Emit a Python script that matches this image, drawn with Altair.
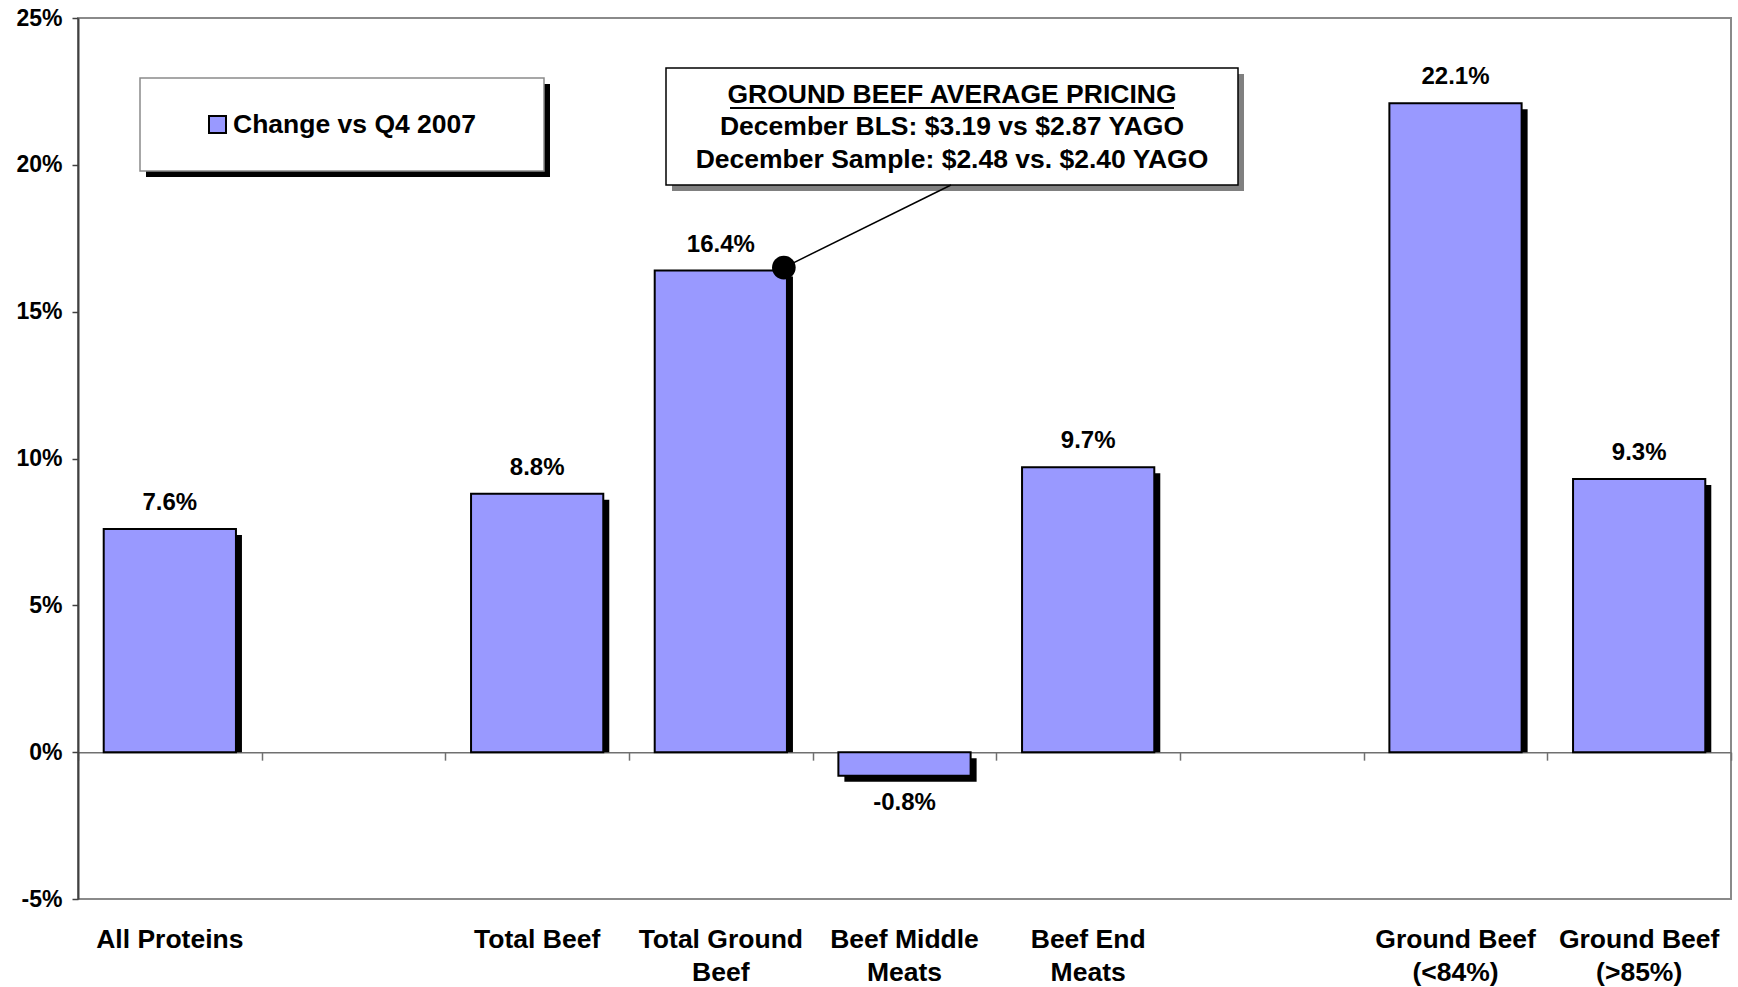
import altair as alt
import pandas as pd

# Category slots along the x axis (blank slots leave gaps between groups)
categories = ["All Proteins", " ", "Total Beef", "Total Ground\nBeef", "Beef Middle\nMeats",
              "Beef End\nMeats", "  ", "Ground Beef\n(<84%)", "Ground Beef\n(>85%)"]
bar_categories = ["All Proteins", "Total Beef", "Total Ground\nBeef", "Beef Middle\nMeats",
                  "Beef End\nMeats", "Ground Beef\n(<84%)", "Ground Beef\n(>85%)"]
change_pct = [7.6, 8.8, 16.4, -0.8, 9.7, 22.1, 9.3]
y_ticks = [-5, 0, 5, 10, 15, 20, 25]
series_name = "Change vs Q4 2007"
callout_category = "Total Ground\nBeef"
callout_lines = ["GROUND BEEF AVERAGE PRICING",
                 "December BLS: $3.19 vs $2.87 YAGO",
                 "December Sample: $2.48 vs. $2.40 YAGO"]

FONT = "Liberation Sans"
BAR_FILL = "#9999FF"
W, H = 1653, 881
SHADOW = 6

df = pd.DataFrame({"category": bar_categories, "value": change_pct})
df["label"] = [f"{v:.1f}%" for v in change_pct]
slots = pd.DataFrame({"category": categories, "value": [0] * len(categories)})
one = pd.DataFrame({"k": [0]})

x_scale = alt.Scale(domain=categories, paddingInner=0.28, paddingOuter=0.14)
y_scale = alt.Scale(domain=[-5, 25], nice=False, zero=False)

x_axis = alt.Axis(orient="bottom", labelExpr="split(datum.label, '\\n')", labelAngle=0,
                  labelFont=FONT, labelFontSize=26.5, labelFontWeight="bold",
                  labelColor="black", labelPadding=27, labelLineHeight=33,
                  labelBaseline="top", labelLimit=400, labelOverlap=False,
                  ticks=False, domain=False, grid=False)
x_main = alt.X("category:N", scale=x_scale, title=None, axis=x_axis)

y_axis = alt.Axis(values=y_ticks, labelExpr="datum.value + '%'", grid=False,
                  labelFont=FONT, labelFontSize=23, labelFontWeight="bold", labelColor="black",
                  labelPadding=10, tickSize=6, tickColor="#404040", tickWidth=1.5,
                  domainColor="#404040", domainWidth=2)
y_main = alt.Y("value:Q", scale=y_scale, title=None, axis=y_axis)

base = alt.Chart(df)

# zero line with ticks on the slot boundaries (own band scale without padding)
zero_axis = alt.Chart(slots).mark_point(opacity=0).encode(
    x=alt.X("category:N", title=None,
            scale=alt.Scale(domain=categories, paddingInner=0, paddingOuter=0),
            axis=alt.Axis(orient="bottom", offset=-(H * 5 / 30), labels=False, ticks=True,
                          tickBand="extent", tickSize=8, tickColor="#707070", tickWidth=1.5,
                          domain=True, domainColor="#707070", domainWidth=1.5, grid=False)),
    y=y_main,
)

# drop shadows behind bars
shadow_pos = base.transform_filter("datum.value >= 0").mark_bar(
    color="black", xOffset=SHADOW, yOffset=SHADOW, y2Offset=0
).encode(x=x_main, y=y_main, y2=alt.datum(0))
shadow_neg = base.transform_filter("datum.value < 0").mark_bar(
    color="black", xOffset=SHADOW, yOffset=SHADOW, y2Offset=SHADOW
).encode(x=x_main, y=y_main, y2=alt.datum(0))

bars = base.mark_bar(fill=BAR_FILL, stroke="black", strokeWidth=2).encode(
    x=x_main, y=y_main, y2=alt.datum(0),
)

labels_pos = base.transform_filter("datum.value >= 0").mark_text(
    font=FONT, fontSize=24, fontWeight="bold", color="black", baseline="middle", dy=-26
).encode(x=x_main, y=y_main, text="label:N")
labels_neg = base.transform_filter("datum.value < 0").mark_text(
    font=FONT, fontSize=24, fontWeight="bold", color="black", baseline="middle", dy=27
).encode(x=x_main, y=y_main, text="label:N")

# legend box
leg = alt.Chart(one)
legend_shadow = leg.mark_rect(color="black").encode(
    x=alt.value(62 + SHADOW), x2=alt.value(466 + SHADOW), y=alt.value(60 + SHADOW), y2=alt.value(153 + SHADOW))
legend_box = leg.mark_rect(fill="white", stroke="#8a8a8a", strokeWidth=1.5).encode(
    x=alt.value(62), x2=alt.value(466), y=alt.value(60), y2=alt.value(153))
legend_swatch = leg.mark_rect(fill=BAR_FILL, stroke="black", strokeWidth=2).encode(
    x=alt.value(131), x2=alt.value(148), y=alt.value(98), y2=alt.value(115))
legend_text = leg.mark_text(font=FONT, fontSize=26.5, fontWeight="bold", color="black",
                            align="left", baseline="middle").encode(
    x=alt.value(155), y=alt.value(107), text=alt.value(series_name))

# callout box with leader line to the Total Ground Beef bar
callout_shadow = leg.mark_rect(color="#808080").encode(
    x=alt.value(588 + SHADOW), x2=alt.value(1160 + SHADOW), y=alt.value(50 + SHADOW), y2=alt.value(167 + SHADOW))
callout_box = leg.mark_rect(fill="white", stroke="black", strokeWidth=1.5).encode(
    x=alt.value(588), x2=alt.value(1160), y=alt.value(50), y2=alt.value(167))
callout_text = [
    leg.mark_text(font=FONT, fontSize=26.5, fontWeight="bold", color="black",
                  align="center", baseline="middle").encode(
        x=alt.value(874), y=alt.value(77 + 32.3 * i), text=alt.value(line))
    for i, line in enumerate(callout_lines)
]
callout_underline = leg.mark_rule(color="black", strokeWidth=2).encode(
    x=alt.value(652), x2=alt.value(1096), y=alt.value(90))

target = base.transform_filter(alt.datum.category == callout_category)
leader = target.mark_rule(color="black", strokeWidth=1.5, xOffset=63, yOffset=-3).encode(
    x=x_main, y=y_main, x2=alt.value(873), y2=alt.value(167))
dot = target.mark_point(filled=True, color="black", opacity=1, size=560, shape="circle",
                        xOffset=63, yOffset=-3).encode(x=x_main, y=y_main)

main = alt.layer(
    shadow_pos, shadow_neg, bars, labels_pos, labels_neg,
    legend_shadow, legend_box, legend_swatch, legend_text,
    callout_shadow, callout_box, *callout_text, callout_underline,
    leader, dot,
)

chart = alt.layer(zero_axis, main).resolve_scale(x="independent").properties(
    width=W, height=H,
    autosize=alt.AutoSizeParams(type="none"),
    padding={"left": 78, "top": 18, "right": 7, "bottom": 88},
    background="white",
).configure_view(stroke="#8a8a8a", strokeWidth=2)

chart.save("out.html", embed_options={"renderer": "svg", "actions": False})
